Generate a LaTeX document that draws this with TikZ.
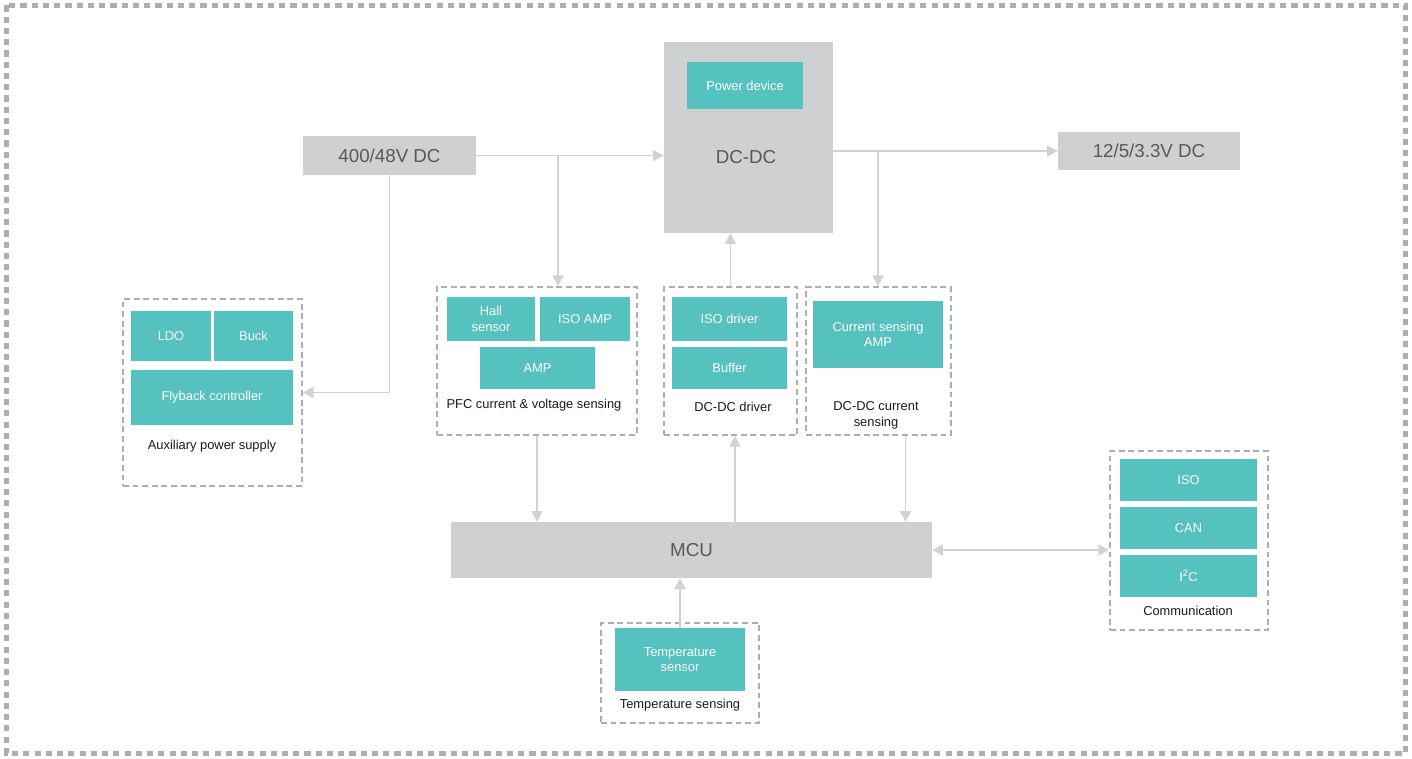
\documentclass[tikz,border=0pt]{standalone}
\usepackage{fontspec}
\setmainfont{Liberation Sans}
\usepackage{xcolor}
\usetikzlibrary{arrows.meta, positioning}
\definecolor{boxgray}{HTML}{CFD0D2}
\definecolor{tealbox}{HTML}{56C2BF}
\definecolor{wiregray}{HTML}{D2D2D2}
\definecolor{dashgray}{HTML}{AEAEAE}
\newcommand{\unitpx}{0.03cm}
\tikzset{
  sz/.style 2 args = {minimum width=#1*\unitpx, minimum height=#2*\unitpx},
  pwr/.style  = {fill=boxgray, text=black!65, inner sep=0pt,
                 font=\fontsize{16}{19}\selectfont},
  big/.style  = {text=black!65, inner sep=0pt, font=\fontsize{16}{19}\selectfont},
  chip/.style = {fill=tealbox, text=white, align=center, inner sep=0pt,
                 font=\fontsize{11}{13}\selectfont},
  grp/.style  = {draw=dashgray, line width=1.5pt, dash pattern=on 5pt off 3.2pt,
                 inner sep=0pt},
  lbl/.style  = {align=center, text=black!90, inner sep=0pt,
                 font=\fontsize{11}{13.5}\selectfont},
  wire/.style = {draw=wiregray, line width=1.6pt, -{Triangle[length=3.2mm, width=3.3mm]}},
  wire2/.style = {draw=wiregray, line width=1.6pt,
                 {Triangle[length=3.2mm, width=3.3mm]}-{Triangle[length=3.2mm, width=3.3mm]}},
}
\begin{document}
\begin{tikzpicture}[x=0.03cm, y=-0.03cm]
  \useasboundingbox (0,0) rectangle (1412,758);
  \draw[dashgray, line width=4.2pt, dash pattern=on 5.2pt off 4.4pt] (6.5,5.5) rectangle (1405.5,753.5);

  \node[pwr, sz={173}{39}]  (in)   at (389.5,155.5) {400/48V DC};
  \node[pwr, sz={169}{191}] (dcdc) at (748.5,137.5) {};
  \node[big]                (dcdct) at (746,157) {DC-DC};
  \node[chip, sz={116}{47}] (pd)   at (745,85.5) {Power device};
  \node[pwr, sz={182}{38}]  (out)  at (1149,151) {12/5/3.3V DC};

  \node[grp, sz={179}{187}] (aux)  at (212.5,392.5) {};
  \node[chip, sz={80}{50}]  (ldo)  at (171,336) {LDO};
  \node[chip, sz={79}{50}]  (buck) at (253.5,336) {Buck};
  \node[chip, sz={162}{55}] (fly)  at (212,397.5) {Flyback controller};
  \node[lbl] (auxl) at (212,446) {Auxiliary power supply};

  \node[grp, sz={200}{148}] (pfc)  at (537,361) {};
  \node[chip, sz={88}{44}]  (hall) at (491,319) {Hall\\sensor};
  \node[chip, sz={90}{44}]  (isoa) at (585,319) {ISO AMP};
  \node[chip, sz={115}{42}] (amp)  at (537.5,368) {AMP};
  \node[lbl] (pfcl) at (534,405) {PFC current \& voltage sensing};

  \node[grp, sz={133}{148}] (drv)  at (730.5,361) {};
  \node[chip, sz={115}{44}] (isod) at (729.5,319) {ISO driver};
  \node[chip, sz={115}{42}] (buf)  at (729.5,368) {Buffer};
  \node[lbl] (drvl) at (733,407) {DC-DC driver};

  \node[grp, sz={145}{148}] (cs)   at (878.5,361) {};
  \node[chip, sz={130}{67}] (csa)  at (878,334.5) {Current sensing\\AMP};
  \node[lbl] (csl) at (876,415) {DC-DC current\\sensing};

  \node[pwr, sz={481}{56}]  (mcu)  at (691.5,550) {MCU};

  \node[grp, sz={158}{179}] (com)  at (1189,540.5) {};
  \node[chip, sz={137}{42}] (iso)  at (1188.5,480) {ISO};
  \node[chip, sz={137}{42}] (can)  at (1188.5,528) {CAN};
  \node[chip, sz={137}{42}] (i2c)  at (1188.5,576) {I\textsuperscript{2}C};
  \node[lbl] (coml) at (1188,611) {Communication};

  \node[grp, sz={158}{100}] (temp) at (680,673) {};
  \node[chip, sz={130}{63}] (tsen) at (680,659.5) {Temperature\\sensor};
  \node[lbl] (templ) at (680,705) {Temperature sensing};

  \coordinate (j1) at (558,155.5);
  \coordinate (j2) at (878,151);
  \draw[wire] (in.east) -- (dcdc.west |- in.east);
  \draw[wire] (dcdc.east |- out.west) -- (out.west);
  \draw[wire] (j1) -- (j1 |- pfc.north); \draw[wire] (j2) -- (j2 |- cs.north);
  \draw[wire] (in.south) |- (aux.east);
  \draw[wire] (drv.north) -- (drv.north |- dcdc.south);
  \draw[wire] (pfc.south) -- (pfc.south |- mcu.north);
  \draw[wire] ([xshift=4.5*\unitpx]drv.south |- mcu.north) -- ([xshift=4.5*\unitpx]drv.south);
  \draw[wire] ([xshift=27*\unitpx]cs.south) -- ([xshift=27*\unitpx]cs.south |- mcu.north);
  \draw[wire2] (mcu.east) -- (mcu.east -| com.west);
  \draw[wire] (tsen.north) -- (tsen.north |- mcu.south);
\end{tikzpicture}
\end{document}
